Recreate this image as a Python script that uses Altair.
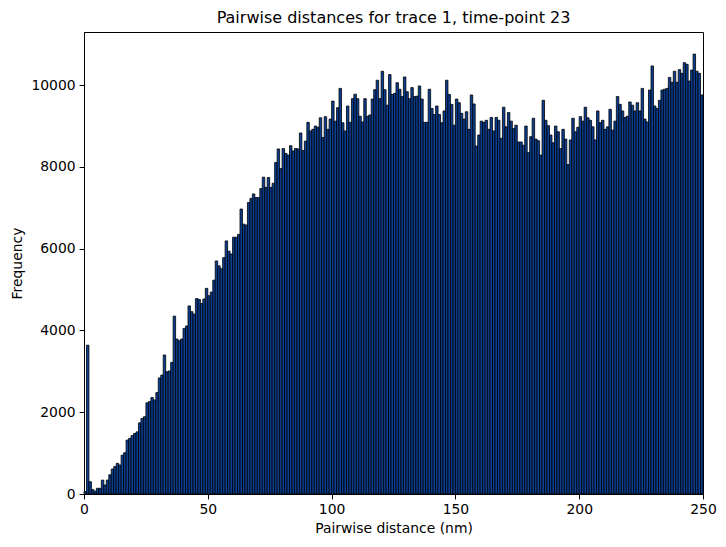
import altair as alt
import pandas as pd

# histogram of pairwise distances, 1 nm bins from 0 to 250
bin_starts = list(range(250))
bin_width = 1

counts = [
    # 0-23
    60, 3640, 300, 110, 70, 140, 140, 340, 220, 340, 470, 610,
    670, 750, 710, 950, 1010, 1320, 1360, 1430, 1480, 1520, 1740, 1850,
    # 24-49
    1890, 2230, 2260, 2360, 2300, 2480, 2840, 2910, 3400, 2990, 3010, 3220, 4350,
    3790, 3750, 3790, 4050, 4110, 4600, 4460, 4400, 4780, 4760, 4660, 4770, 5030,
    # 50-73
    4850, 4940, 5230, 5700, 5580, 5510, 5780, 6190, 5940, 5870, 6280, 6280,
    6350, 6970, 6600, 6580, 7130, 7230, 7340, 7250, 7250, 7470, 7750, 7500,
    # 74-98
    7740, 7500, 7600, 8110, 8440, 7960, 8450, 8330, 8290, 8520, 8390, 8450, 8440,
    8830, 8400, 8630, 9090, 8880, 8920, 9000, 8970, 9200, 8720, 9230, 8920,
    # 99-123
    9170, 9610, 9120, 9450, 9920, 9080, 8880, 9490, 9090, 9670, 9780, 9670, 9240,
    9100, 9670, 9240, 9270, 9660, 9890, 10120, 9670, 10340, 9890, 9510, 10260,
    # 124-148
    9770, 9800, 10060, 9900, 9720, 10200, 9840, 9670, 9940, 9720, 9730, 9980, 9660,
    9090, 9090, 9900, 9430, 9280, 9490, 9280, 9080, 9370, 10120, 9770, 9530,
    # 149-173
    9020, 9660, 9570, 9310, 9170, 9350, 8920, 9760, 9540, 8510, 8780, 9120, 9090,
    9140, 8920, 9210, 8880, 9210, 9140, 8700, 9460, 8980, 9330, 9120, 8940,
    # 174-200
    9020, 8610, 8610, 8530, 9000, 8350, 8740, 9190, 8680, 8640, 8290, 9630, 9140,
    9010, 8780, 8590, 9000, 8860, 8450, 8920, 8680, 8060, 8660, 9190, 8860, 8970, 9230,
    # 201-223
    9120, 9460, 9200, 9140, 8980, 8660, 9370, 9080, 9140, 8920, 8980, 9410,
    8900, 9120, 9720, 9530, 9370, 9210, 9240, 9590, 9510, 9370, 9570,
    # 224-249
    9370, 9920, 9170, 9100, 9880, 10470, 9490, 9430, 9630, 9880, 9900, 9920, 10190,
    10070, 10340, 10070, 10380, 10290, 10550, 10510, 10100, 10370, 10760, 10340, 10290, 9760,
]

x_ticks = [0, 50, 100, 150, 200, 250]
y_ticks = [0, 2000, 4000, 6000, 8000, 10000]

df = pd.DataFrame({"start": bin_starts, "count": counts})
df["end"] = df["start"] + bin_width

font = "DejaVu Sans"

chart = alt.Chart(df).mark_rect(
    color="#0b3f94", stroke="black", strokeWidth=0.8
).encode(
    x=alt.X("start:Q",
            scale=alt.Scale(domain=[0, 250], nice=False, zero=False),
            axis=alt.Axis(values=x_ticks, format="d", title="Pairwise distance (nm)")),
    x2="end:Q",
    y=alt.Y("count:Q",
            scale=alt.Scale(domain=[0, 11300], nice=False),
            axis=alt.Axis(values=y_ticks, format="d", title="Frequency")),
    y2=alt.datum(0),
).properties(
    width=619,
    height=462,
    title=alt.TitleParams("Pairwise distances for trace 1, time-point 23",
                          font=font, fontSize=16, fontWeight="normal",
                          color="black", offset=6, anchor="middle"),
    autosize=alt.AutoSizeParams(type="none"),
    padding={"left": 76, "top": 24, "right": 15, "bottom": 46},
).configure_view(
    stroke="black", strokeWidth=1
).configure_axis(
    grid=False, domainColor="black", tickColor="black", tickSize=4.9,
    labelFont=font, labelFontSize=13.9, labelColor="black", labelPadding=4,
    titleFont=font, titleFontSize=13.9, titleFontWeight="normal", titleColor="black",
    labelFlush=False,
).configure_axisX(
    titlePadding=5
).configure_axisY(
    titlePadding=6
)

chart.save("out.html", embed_options={"renderer": "svg", "actions": False})
